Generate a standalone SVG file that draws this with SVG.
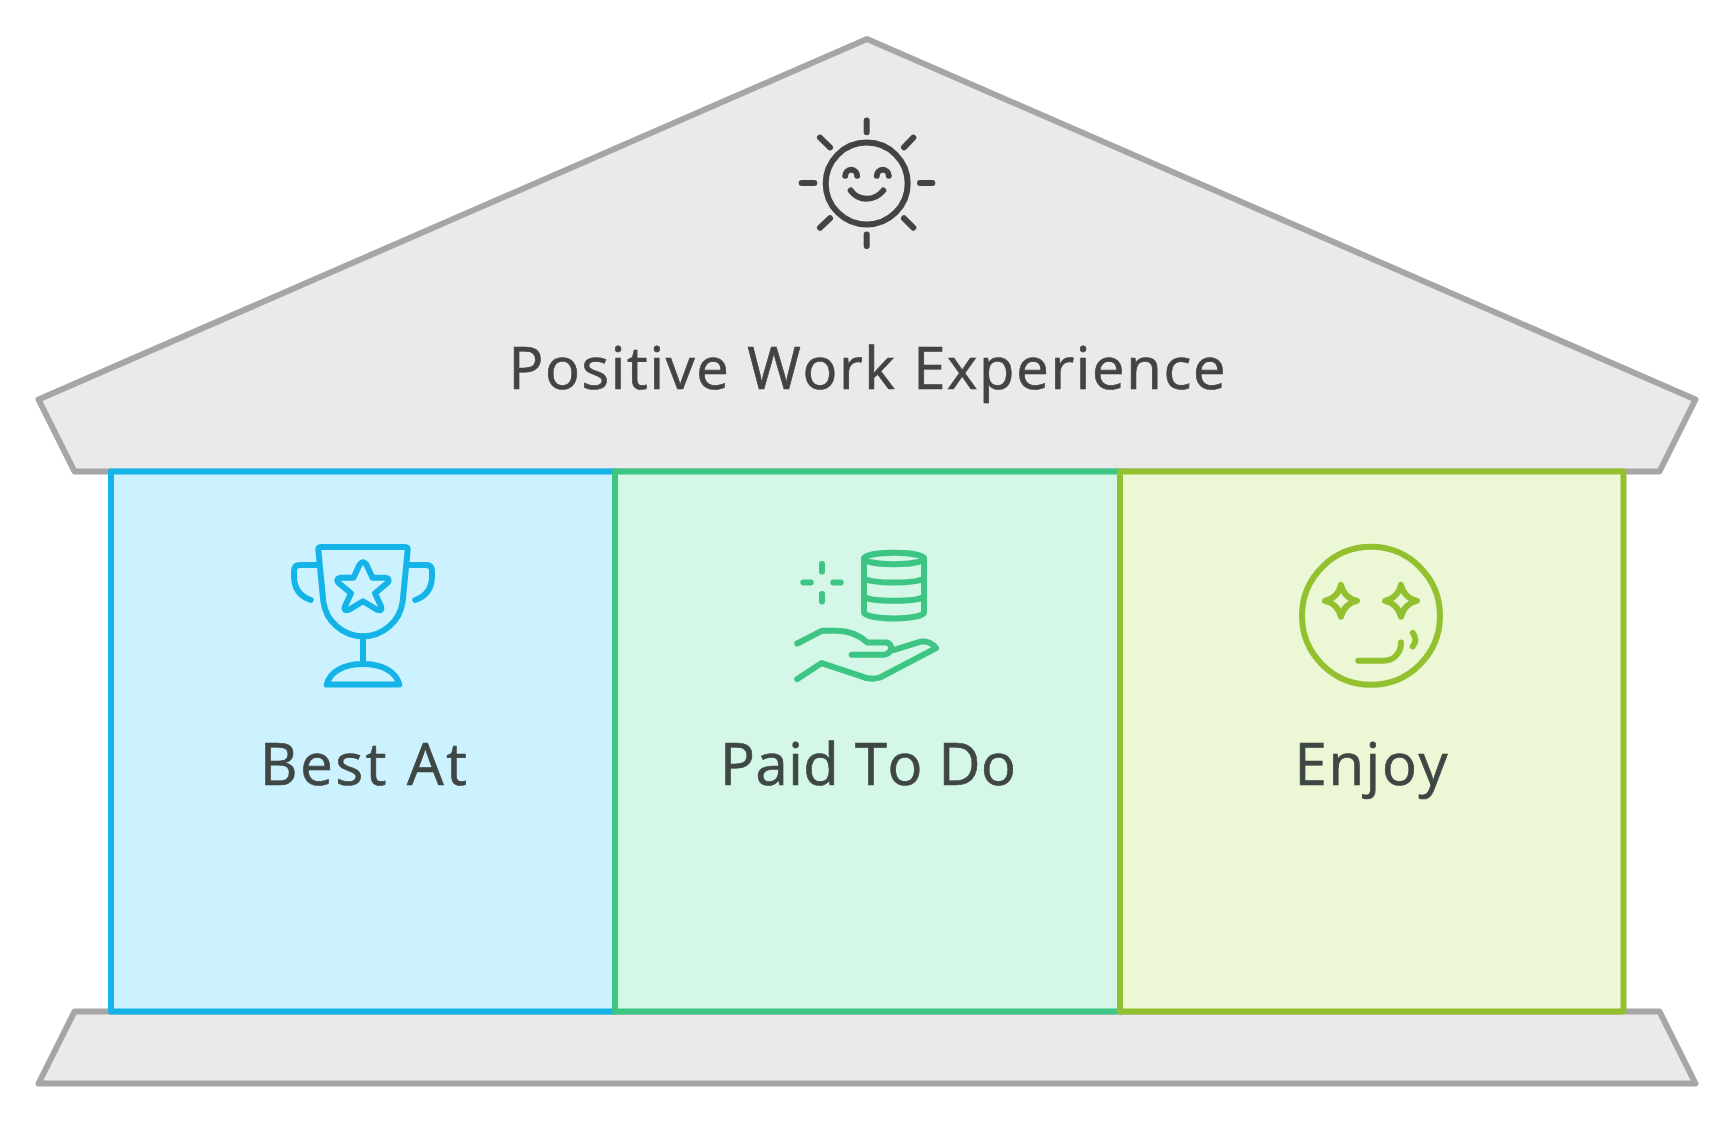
<svg xmlns="http://www.w3.org/2000/svg" width="1734" height="1122" viewBox="0 0 1734 1122">
<style>
.frame{fill:#eaeaea;stroke:#a6a6a6;stroke-width:6;stroke-linejoin:round}
.cell{stroke-width:6;stroke-linejoin:round}
.ico{fill:none;stroke-width:6;stroke-linecap:round;stroke-linejoin:round}
.lbl{font-family:"Open Sans","Liberation Sans",sans-serif;font-size:58px;text-anchor:middle;fill:#3f4745;stroke:#3f4745;stroke-width:.7}
.blue{stroke:#14b4e8}.green{stroke:#3cc583}.lime{stroke:#93c02f}.dark{stroke:#434343}
</style>
<rect width="1734" height="1122" fill="#ffffff"/>
<g id="roof">
<path class="frame" d="M867 39L1695.500 399.500L1659.500 471.500H74.500L38.500 399.500Z"/>
<g class="ico dark">
<circle cx="866.700" cy="183.500" r="41"/>
<path d="M866.700 120.500V132.300M866.700 234.500V246M801.700 183H814.300M920 183H932.300M820 137.700L830 147.300M913.300 137.700L904 147.300M820 227.700L830 218.300M913.300 227.700L904 218.300"/>
<path d="M845.200 175.800A6 6 0 0 1 857.200 175.800M876.800 175.800A6 6 0 0 1 888.800 175.800"/>
<path d="M850.700 190.500C855 196.500 860 198.800 866.700 198.800S878.500 196.500 883.300 190.500"/>
</g>
<text class="lbl" x="867" y="389" textLength="717" style="fill:#434343;stroke:#434343">Positive Work Experience</text>
</g>
<g id="base">
<path class="frame" d="M74.500 1011.500H1659.500L1695.500 1083.500H38.500Z"/>
</g>
<g id="best-at">
<rect class="cell blue" x="111" y="471.500" width="504" height="540" fill="#ccf2ff"/>
<g class="ico blue" transform="translate(0 1.300)">
<path d="M321 545.700H405Q407.900 545.700 407.700 548.500L402.700 600C400 620 383 635 363 635S326 620 323.300 600L318.300 548.500Q318.100 545.700 321 545.700Z"/>
<path d="M363 635V662.700M326.700 683.300H399.300C396 670 382 662.700 363 662.700S330 670 326.700 683.300Z"/>
<path d="M319 563.700H300Q294 563.700 294 570V575C294 587 300 595 310.700 598.700M407 563.700H426Q432 563.700 432 570V575C432 587 426 595 415.300 598.700"/>
<path d="M359.500 563.500Q363 558.500 366.500 563.500L372.500 576.500H385Q391 577.500 387 582L375 592L381 605Q382.500 610.500 377 608.500L363 600L349 608.500Q343.500 610.500 345 605L351 592L339 582Q335 577.500 341 576.500H353.500Z"/>
</g>
<text class="lbl" x="363.500" y="785" textLength="207">Best At</text>
</g>
<g id="paid-to-do">
<rect class="cell green" x="615" y="471.500" width="505" height="540" fill="#d4f7e7"/>
<g class="ico green" transform="translate(0 .8)">
<ellipse cx="894" cy="557.700" rx="30" ry="5.700"/>
<path d="M864 557.700V611.700C864 615 878 617.700 894 617.700S924 615 924 611.700V557.700M864 577.700C868 580 880 581.700 894 581.700S920 580 924 577.700M864 596C868 598.300 880 600 894 600S920 598.300 924 596"/>
<path d="M822 563.300V570.700M822 593.300V600.700M803.300 581.700H810.700M833.300 581.700H840.700"/>
<path d="M797.300 642.700L821.700 630H836.700C850 630 860 635 867.300 641.700H886.700C893 643 893 652 884 654H851.700"/>
<path d="M893.300 649.300L920 641C927 640 932 642 936 647.300L880 676.700C873 679 866 678 860 675L821.700 662.300L797.300 678.300"/>
</g>
<text class="lbl" x="868" y="785" textLength="296">Paid To Do</text>
</g>
<g id="enjoy">
<rect class="cell lime" x="1120" y="471.500" width="503.500" height="540" fill="#ecf7d5"/>
<g class="ico lime" transform="translate(0 .8)">
<circle cx="1371" cy="615" r="69"/>
<path d="M1341 584Q1344 597 1357 600Q1344 603 1341 616Q1338 603 1325 600Q1338 597 1341 584Z"/>
<path d="M1401 584Q1404 597 1417 600Q1404 603 1401 616Q1398 603 1385 600Q1398 597 1401 584Z"/>
<path d="M1358.300 660H1383.300C1394 660 1401 652 1401 641.700M1412.700 632Q1418 639 1412.700 645.700"/>
</g>
<text class="lbl" x="1371" y="785" textLength="153">Enjoy</text>
</g>
</svg>
